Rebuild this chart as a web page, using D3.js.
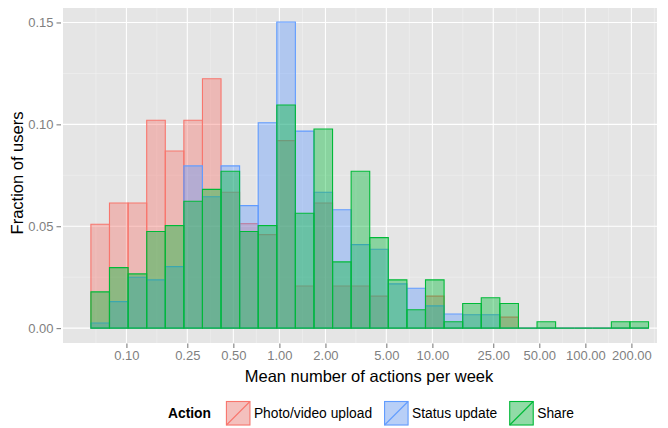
<!DOCTYPE html>
<html>
<head>
<meta charset="utf-8">
<script src="https://cdn.jsdelivr.net/npm/d3@7"></script>
<style>
  body { margin: 0; background: #fff; }
  text { font-family: "Liberation Sans", Arial, Helvetica, sans-serif; }
</style>
</head>
<body>
<div id="main"></div>
<script>

// bin edges (mean actions per week), 30 log-spaced bins
var binEdges = [0.0586, 0.0775, 0.1026, 0.1357, 0.1795, 0.2374, 0.3141, 0.4154, 0.5495, 0.7269,
    0.9616, 1.272, 1.683, 2.226, 2.944, 3.895, 5.152, 6.816, 9.016, 11.93,
    15.78, 20.87, 27.61, 36.52, 48.31, 63.91, 84.53, 111.8, 147.9, 195.6, 258.8];

var actions = ['Photo/video upload', 'Status update', 'Share'];
var actionColors = ['#F8766D', '#619CFF', '#00BA38'];

// fraction of users per bin
var photoUpload = [0.0510, 0.0614, 0.0614, 0.1020, 0.0869, 0.1020, 0.1224, 0.0667, 0.0513, 0.0459,
    0.0920, 0.0207, 0.0614, 0.0207, 0.0207, 0.0157, 0, 0, 0.0157, 0,
    0, 0, 0.0054, 0, 0, 0, 0, 0, 0, 0];
var statusUpdate = [0.0025, 0.0130, 0.0250, 0.0237, 0.0302, 0.0796, 0.0645, 0.0796, 0.0601, 0.1008,
    0.1502, 0.0967, 0.0667, 0.0581, 0.0410, 0.0387, 0.0217, 0.0196, 0.0109, 0.0069,
    0.0066, 0.0066, 0, 0, 0, 0, 0, 0, 0, 0];
var share = [0.0178, 0.0297, 0.0266, 0.0474, 0.0503, 0.0623, 0.0681, 0.0770, 0.0474, 0.0503,
    0.1095, 0.0564, 0.0977, 0.0325, 0.0770, 0.0444, 0.0237, 0.0090, 0.0237, 0.0031,
    0.0121, 0.0149, 0.0121, 0, 0.0031, 0, 0, 0, 0.0031, 0.0031];

var xTicks = [0.1, 0.25, 0.5, 1, 2, 5, 10, 25, 50, 100, 200];
var yTicks = [0, 0.05, 0.10, 0.15];

var seriesList = [photoUpload, statusUpdate, share];

// panel geometry
var W = 668, H = 428;
var panel = { left: 63, right: 657, top: 8, bottom: 343 };

var svg = d3.select('#main').append('svg')
    .attr('width', W)
    .attr('height', H);

var xScale = d3.scaleLog()
    .domain([0.0385, 294])
    .range([panel.left, panel.right]);

var yScale = d3.scaleLinear()
    .domain([-0.0073, 0.1571])
    .range([panel.bottom, panel.top]);

// panel background
svg.append('rect')
    .attr('x', panel.left).attr('y', panel.top)
    .attr('width', panel.right - panel.left)
    .attr('height', panel.bottom - panel.top)
    .attr('fill', '#E5E5E5');

// minor breaks: midpoints between major breaks (in log space for x)
var xLog = xTicks.map(function (d) { return Math.log10(d); });
var xExt = [xLog[0] - (xLog[1] - xLog[0])].concat(xLog, [xLog[xLog.length - 1] * 2 - xLog[xLog.length - 2]]);
var xMinor = d3.pairs(xExt).map(function (p) { return Math.pow(10, (p[0] + p[1]) / 2); })
    .filter(function (d) { var px = xScale(d); return px > panel.left && px < panel.right; });
var yMinor = d3.pairs(yTicks).map(function (p) { return (p[0] + p[1]) / 2; });

var grid = svg.append('g');
grid.selectAll('.xminor').data(xMinor).enter().append('line')
    .attr('x1', function (d) { return xScale(d); }).attr('x2', function (d) { return xScale(d); })
    .attr('y1', panel.top).attr('y2', panel.bottom)
    .attr('stroke', '#F2F2F2').attr('stroke-width', 0.55);
grid.selectAll('.yminor').data(yMinor).enter().append('line')
    .attr('y1', function (d) { return yScale(d); }).attr('y2', function (d) { return yScale(d); })
    .attr('x1', panel.left).attr('x2', panel.right)
    .attr('stroke', '#F2F2F2').attr('stroke-width', 0.55);
grid.selectAll('.xmajor').data(xTicks).enter().append('line')
    .attr('x1', function (d) { return xScale(d); }).attr('x2', function (d) { return xScale(d); })
    .attr('y1', panel.top).attr('y2', panel.bottom)
    .attr('stroke', '#FFFFFF').attr('stroke-width', 1.1);
grid.selectAll('.ymajor').data(yTicks).enter().append('line')
    .attr('y1', function (d) { return yScale(d); }).attr('y2', function (d) { return yScale(d); })
    .attr('x1', panel.left).attr('x2', panel.right)
    .attr('stroke', '#FFFFFF').attr('stroke-width', 1.1);

// bars as paths so empty bins still show their outline on the baseline
function barPath(d, i) {
    var x0 = xScale(binEdges[i]), x1 = xScale(binEdges[i + 1]);
    var y0 = yScale(0), y1 = yScale(d);
    return 'M' + x0 + ',' + y0 + 'V' + y1 + 'H' + x1 + 'V' + y0 + 'Z';
}

seriesList.forEach(function (values, s) {
    svg.append('g').selectAll('path')
        .data(values)
        .enter()
        .append('path')
        .attr('d', barPath)
        .attr('fill', actionColors[s])
        .attr('fill-opacity', 0.4)
        .attr('stroke', actionColors[s])
        .attr('stroke-width', 1.1);
});

// axes
var xAxis = d3.axisBottom(xScale).tickValues(xTicks).tickFormat(d3.format('.2f'))
    .tickSize(4.5).tickPadding(3);
var yAxis = d3.axisLeft(yScale).tickValues(yTicks).tickFormat(d3.format('.2f'))
    .tickSize(4.5).tickPadding(3);

var xAxisEl = svg.append('g')
    .attr('transform', 'translate(0,' + (panel.bottom + 0.5) + ')')
    .call(xAxis);
var yAxisEl = svg.append('g')
    .attr('transform', 'translate(' + (panel.left - 2) + ',0)')
    .call(yAxis);

[xAxisEl, yAxisEl].forEach(function (ax) {
    ax.select('.domain').remove();
    ax.selectAll('line').attr('stroke', '#7F7F7F').attr('stroke-width', 1.1);
    ax.selectAll('text').attr('fill', '#7F7F7F')
        .style('font-family', '"Liberation Sans", Arial, sans-serif')
        .style('font-size', '13px');
});

// axis titles
svg.append('text')
    .attr('x', 369).attr('y', 381.5)
    .attr('text-anchor', 'middle')
    .style('font-size', '16.5px')
    .attr('fill', '#000')
    .text('Mean number of actions per week');

svg.append('text')
    .attr('transform', 'translate(23,173) rotate(-90)')
    .attr('text-anchor', 'middle')
    .style('font-size', '16.5px')
    .attr('fill', '#000')
    .text('Fraction of users');

// legend
var legend = svg.append('g');
var keySize = 24.5, keyY = 401, textY = 418;
var lx = 168;
var legTitle = legend.append('text')
    .attr('x', lx).attr('y', textY)
    .style('font-size', '13.8px').style('font-weight', 'bold')
    .text('Action');
lx += legTitle.node().getComputedTextLength() + 15;

actions.forEach(function (name, i) {
    var g = legend.append('g').attr('transform', 'translate(' + lx + ',' + keyY + ')');
    g.append('rect').attr('width', keySize).attr('height', keySize).attr('fill', '#F2F2F2');
    g.append('rect')
        .attr('x', 0.5).attr('y', 0.5)
        .attr('width', keySize - 1).attr('height', keySize - 1)
        .attr('fill', actionColors[i]).attr('fill-opacity', 0.4)
        .attr('stroke', actionColors[i]).attr('stroke-width', 1.1);
    g.append('line')
        .attr('x1', 0.5).attr('y1', keySize - 0.5)
        .attr('x2', keySize - 0.5).attr('y2', 0.5)
        .attr('stroke', actionColors[i]).attr('stroke-width', 1.1);
    var t = legend.append('text')
        .attr('x', lx + keySize + 3.5).attr('y', textY)
        .style('font-size', '13.8px')
        .text(name);
    lx += keySize + 3.5 + t.node().getComputedTextLength() + 12;
});

</script>
</body>
</html>
